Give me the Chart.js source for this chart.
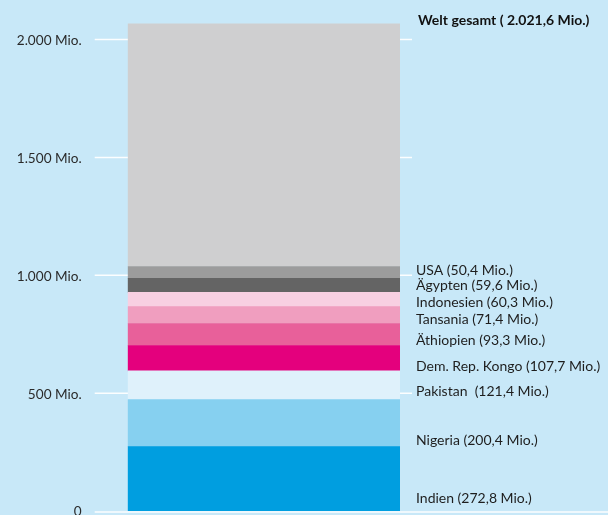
<!DOCTYPE html>
<html>
<head>
<meta charset="utf-8">
<script src="https://cdn.jsdelivr.net/npm/chart.js@4.4.1/dist/chart.umd.min.js"></script>
<style>
  html, body { margin: 0; padding: 0; background: #c8e8f8; }
  #c { display: block; }
</style>
</head>
<body>
<canvas id="c" width="608" height="515"></canvas>
<script>
// ---- data ----
const categories = ['Bevölkerung'];
const countries = ['Indien', 'Nigeria', 'Pakistan', 'Dem. Rep. Kongo', 'Äthiopien', 'Tansania', 'Indonesien', 'Ägypten', 'USA', 'Übrige Welt'];
const values = [272.8, 200.4, 121.4, 107.7, 93.3, 71.4, 60.3, 59.6, 50.4, 1029];
const valueLabels = ['Indien (272,8 Mio.)', 'Nigeria (200,4 Mio.)', 'Pakistan  (121,4 Mio.)', 'Dem. Rep. Kongo (107,7 Mio.)', 'Äthiopien (93,3 Mio.)', 'Tansania (71,4 Mio.)', 'Indonesien (60,3 Mio.)', 'Ägypten (59,6 Mio.)', 'USA (50,4 Mio.)', ''];
const totalLabel = 'Welt gesamt ( 2.021,6 Mio.)';
const tickValues = [0, 500, 1000, 1500, 2000];
const tickLabels = ['0', '500 Mio.', '1.000 Mio.', '1.500 Mio.', '2.000 Mio.'];

// ---- layout / style ----
const colors = ['#009ee0', '#86d0f0', '#dff1fb', '#e4007d', '#e8609a', '#f09ebf', '#f8d0e2', '#646464', '#9c9c9c', '#cfcfd0'];
const labelAnchors = [51, 301, 507, 615, 723, 811, 883, 955, 1020, null]; // axis units
const totalAnchor = 2080;
const FONT = 'Lato, "Noto Sans", sans-serif';

const overlay = {
  id: 'overlay',
  beforeDatasetsDraw(chart) {
    const { ctx, chartArea: a, scales: { y } } = chart;
    ctx.save();
    ctx.strokeStyle = 'rgba(255,255,255,0.95)';
    ctx.lineWidth = 1.5;
    tickValues.forEach(v => {
      if (v === 0) return;
      const py = y.getPixelForValue(v);
      ctx.beginPath();
      ctx.moveTo(a.left - 33, py);
      ctx.lineTo(a.right + 12, py);
      ctx.stroke();
    });
    ctx.restore();
  },
  afterDatasetsDraw(chart) {
    const { ctx, chartArea: a, scales: { y } } = chart;
    ctx.save();
    // zero line
    ctx.strokeStyle = 'rgba(255,255,255,0.95)';
    ctx.lineWidth = 1.5;
    const p0 = y.getPixelForValue(0) + 1;
    ctx.beginPath();
    ctx.moveTo(a.left - 33, p0);
    ctx.lineTo(chart.width, p0);
    ctx.stroke();

    // y tick labels
    ctx.fillStyle = '#2a2a2a';
    ctx.font = '13.6px ' + FONT;
    ctx.textAlign = 'right';
    ctx.textBaseline = 'middle';
    tickValues.forEach((v, i) => {
      ctx.fillText(tickLabels[i], a.left - 46, y.getPixelForValue(v) + 1);
    });

    // segment labels
    ctx.font = '14px ' + FONT;
    ctx.fillStyle = '#1e1e1e';
    ctx.textAlign = 'left';
    valueLabels.forEach((t, i) => {
      if (!t || labelAnchors[i] == null) return;
      ctx.fillText(t, a.right + 16, y.getPixelForValue(labelAnchors[i]));
    });

    // total label
    ctx.font = 'bold 14px ' + FONT;
    ctx.fillStyle = '#111';
    ctx.fillText(totalLabel, a.right + 18, y.getPixelForValue(totalAnchor));
    ctx.restore();
  }
};

function build() {
  new Chart(document.getElementById('c'), {
    type: 'bar',
    data: {
      labels: categories,
      datasets: countries.map((c, i) => ({
        label: c,
        data: [values[i]],
        backgroundColor: colors[i],
        borderWidth: 0,
        barPercentage: 1,
        categoryPercentage: 1
      }))
    },
    options: {
      responsive: false,
      devicePixelRatio: 1,
      animation: false,
      layout: { padding: { left: 127.7, right: 208, top: 16, bottom: 4 } },
      plugins: { legend: { display: false }, tooltip: { enabled: false } },
      scales: {
        x: { display: false, stacked: true },
        y: { display: false, stacked: true, min: 0, max: 2100 }
      }
    },
    plugins: [overlay]
  });
}

if (document.fonts && document.fonts.load) {
  Promise.all([document.fonts.load('14px Lato'), document.fonts.load('bold 14px Lato')]).then(build, build);
} else {
  build();
}
</script>
</body>
</html>
